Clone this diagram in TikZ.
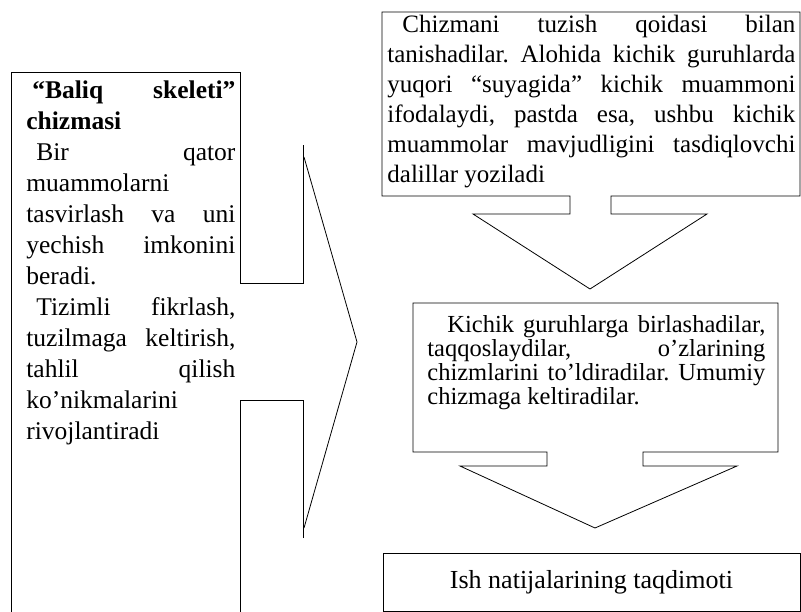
\documentclass[tikz,border=0pt]{standalone}
\usepackage{fontspec}
\setmainfont{Liberation Serif}
\frenchspacing
\newcommand\myj[1]{\hbox to\linewidth{\spaceskip=0pt\xspaceskip=0pt\relax #1}}
\newcommand\myl[1]{\hbox to\linewidth{\spaceskip=0pt\xspaceskip=0pt\relax #1\hfil}}
\begin{document}
\begin{tikzpicture}[x=1pt,y=-1pt,line width=0.8pt,
  txt/.style={inner sep=0pt,anchor=base west,align=justify},
  outline/.style={draw=black,line width=0.8pt,line join=miter}]
\useasboundingbox (0,0) rectangle (801,612);
% ---------- left box with right-pointing block arrow ----------
\coordinate (lbTL) at (11,72);
\coordinate (lbTR) at (240,72);
\coordinate (s1) at (240,283);
\coordinate (s2) at (303,283);
\coordinate (h1) at (303,145);
\coordinate (d1) at (304,157);
\coordinate (tipA) at (357,342);
\coordinate (d2) at (304,528);
\coordinate (h2) at (303,538);
\coordinate (s3) at (303,400);
\coordinate (s4) at (240,400);
\draw[outline] (11,612) -- (lbTL) -- (lbTR) -- (s1) -- (s2) -- (h1);
\draw[outline] (d1) -- (tipA) -- (d2);
\draw[outline] (h2) -- (s3) -- (s4) -- (240,612);
\node[txt,text width=209pt,font=\fontsize{25.5}{31}\selectfont] (lefttext) at (26,99) {%
\myj{\bfseries\hspace*{6pt}“Baliq\hfil skeleti”}
\myl{\bfseries chizmasi}
\myj{\hspace*{10pt}Bir qator}
\myl{muammolarni}
\myj{tasvirlash va uni}
\myj{yechish imkonini}
\myl{beradi.}
\myj{\hspace*{10pt}Tizimli fikrlash,}
\myj{tuzilmaga keltirish,}
\myj{tahlil qilish}
\myl{ko’nikmalarini}
\myl{rivojlantiradi}};
% ---------- top right box with down arrow ----------
\coordinate (b1a) at (382,12);
\coordinate (b1b) at (800,12);
\coordinate (b1c) at (800,196);
\coordinate (b1d) at (382,196);
\draw[outline] (b1a) -- (b1b) -- (b1c) -- (611,196) -- (611,214) -- (707,214) -- (590,289) coordinate (tipB) -- (473,214) -- (570,214) -- (570,196) -- (b1d) -- cycle;
\node[txt,text width=408pt,font=\fontsize{25}{30}\selectfont] (toptext) at (387,33) {%
\myj{\hspace*{15pt}Chizmani tuzish qoidasi bilan}
\myj{tanishadilar. Alohida kichik guruhlarda}
\myj{yuqori “suyagida” kichik muammoni}
\myj{ifodalaydi, pastda esa, ushbu kichik}
\myj{muammolar mavjudligini tasdiqlovchi}
\myl{dalillar yoziladi}};
% ---------- middle box with down arrow ----------
\draw[outline] (413,303) -- (778,303) -- (778,452) -- (643,452) -- (643,466) -- (737,466) -- (595,528) coordinate (tipC) -- (460,466) -- (547,466) -- (547,452) -- (413,452) -- cycle;
\node[txt,text width=338pt,font=\fontsize{24.5}{24}\selectfont] (midtext) at (427,333) {%
\myj{\hspace*{20pt}Kichik guruhlarga birlashadilar,}
\myj{taqqoslaydilar, o’zlarining}
\myj{chizmlarini to’ldiradilar. Umumiy}
\myl{chizmaga keltiradilar.}};
% ---------- bottom box ----------
\draw[outline] (383,553) rectangle (800,611);
\node[inner sep=0pt,anchor=base,font=\fontsize{26}{30}\selectfont] (bottext) at (591.5,588) {Ish natijalarining taqdimoti};
\end{tikzpicture}
\end{document}
